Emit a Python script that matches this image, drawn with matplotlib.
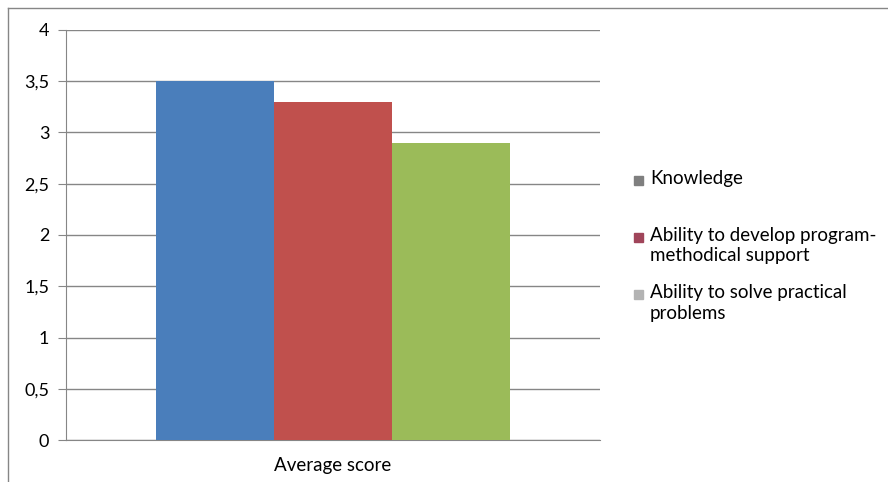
import matplotlib.pyplot as plt
from matplotlib.patches import Rectangle
from matplotlib.lines import Line2D

plt.rcParams['font.family'] = ['Lato', 'DejaVu Sans']

category = "Average score"
series = ["Knowledge", "Ability to develop program-\nmethodical support", "Ability to solve practical\nproblems"]
values = [3.5, 3.3, 2.9]
bar_colors = ["#4a7ebb", "#c0504d", "#9bbb59"]
legend_colors = ["#7f7f7f", "#a0455a", "#b3b3b3"]
yticks = [0, 0.5, 1, 1.5, 2, 2.5, 3, 3.5, 4]
ytick_labels = ["0", "0,5", "1", "1,5", "2", "2,5", "3", "3,5", "4"]

fig = plt.figure(figsize=(8.88, 4.82), dpi=100)
ax = fig.add_axes([0.0743, 0.0871, 0.6014, 0.8507])

width = 0.221
offsets = [-width, 0, width]
for off, v, c in zip(offsets, values, bar_colors):
    ax.bar(off, v, width=width, color=c, zorder=3)

ax.set_xlim(-0.5, 0.5)
ax.set_ylim(0, 4)
ax.set_yticks(yticks)
ax.set_yticklabels(ytick_labels, fontsize=13)
ax.set_xticks([0])
ax.set_xticklabels([category], fontsize=13.5)
ax.tick_params(axis='x', length=0, pad=12)
ax.tick_params(axis='y', length=6, color="#868686", pad=6)
ax.yaxis.grid(True, color="#868686", linewidth=1, zorder=0)
for s in ["top", "right"]:
    ax.spines[s].set_visible(False)
ax.spines["left"].set_color("#868686")
ax.spines["bottom"].set_color("#868686")

# legend drawn by hand in figure pixels
W, H = 888, 482
entries_y = [181, 238, 295]
for name, col, y in zip(series, legend_colors, entries_y):
    fig.patches.append(Rectangle((634 / W, 1 - (y + 4) / H), 9 / W, 9 / H,
                                 transform=fig.transFigure, color=col))
    fig.text(650 / W, 1 - (y - 11) / H, name, fontsize=13.5, va="top",
             ha="left", color="#000000", linespacing=1.25)

# chart frame
fig.lines.append(Line2D([8 / W, 8 / W], [0, 1 - 8 / H], transform=fig.transFigure,
                        color="#868686", linewidth=1))
fig.lines.append(Line2D([8 / W, 1], [1 - 8 / H, 1 - 8 / H], transform=fig.transFigure,
                        color="#868686", linewidth=1))

fig.savefig("out.png", dpi=100)
